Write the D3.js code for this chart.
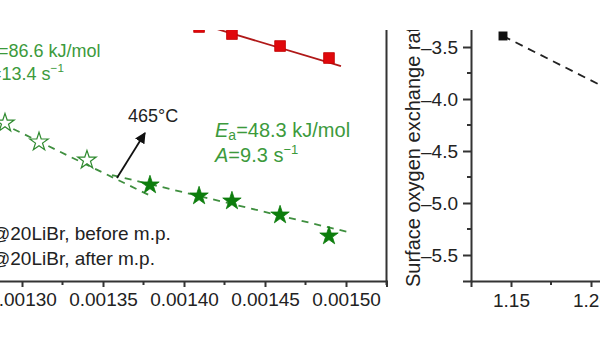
<!DOCTYPE html>
<html><head><meta charset="utf-8">
<script src="https://cdn.jsdelivr.net/npm/d3@7"></script>
<style>
html,body{margin:0;padding:0;background:#fff;}
svg{display:block;font-family:"Liberation Sans",Arial,sans-serif;}
</style></head>
<body>
<svg id="c" width="600" height="338"></svg>
<script>
// ---------- data (left panel: Arrhenius plot, x = 1/T in K^-1) ----------
const openStarX = [0.0012895, 0.0013105, 0.0013401];
const openStarY = [-3.549, -3.783, -4.006];
const filledStarX = [0.001379, 0.0014093, 0.0014296, 0.0014593, 0.0014895];
const filledStarY = [-4.314, -4.450, -4.512, -4.685, -4.944];
const redSquareX = [0.0014093, 0.0014296, 0.0014593, 0.0014895];
const redSquareY = [-2.363, -2.450, -2.598, -2.746];
const redFitX = [0.0014037, 0.0014969];
const redFitY = [-2.289, -2.845];
const openFitX = [0.0012802, 0.0013809];
const openFitY = [-3.482, -4.463];
const filledFitX = [0.0013556, 0.0015037];
const filledFitY = [-4.191, -4.907];
const leftXTicks = [0.00125, 0.00130, 0.00135, 0.00140, 0.00145, 0.00150];
const legendLabels = ["@20LiBr, before m.p.", "@20LiBr, after m.p."];
const arrowFrom = [0.0013586, -4.228];
const arrowTo = [0.0013759, -3.672];
// ---------- data (right panel) ----------
const rightPointX = [1.145];
const rightPointY = [-3.394];
const rightFitX = [1.145, 1.25];
const rightFitY = [-3.394, -4.21];
const rightXTicks = [1.15, 1.20];
const rightYTicks = [-5.5, -5.0, -4.5, -4.0, -3.5];
const rightYTitle = "Surface oxygen exchange rate, log k";

const svg = d3.select("#c");
const defs = svg.append("defs");
defs.append("clipPath").attr("id","clipAll").append("rect")
  .attr("x",-100).attr("y",30).attr("width",800).attr("height",400);
defs.append("marker").attr("id","ah").attr("viewBox","0 0 10 10")
  .attr("refX",9).attr("refY",5).attr("markerWidth",11).attr("markerHeight",11)
  .attr("markerUnits","userSpaceOnUse").attr("orient","auto")
  .append("path").attr("d","M0,0 L10,5 L0,10 z").attr("fill","#111");

const root = svg.append("g").attr("clip-path","url(#clipAll)");

const AX = "#333", GREEN_T = "#3c9a3c", GREEN_M = "#0d7d0d", GREEN_L = "#3f8f3f";

// ---------- left panel scales ----------
const xL = d3.scaleLinear().domain([0.00125, 0.001525]).range([-59, 386.5]);
const yL = d3.scaleLinear().domain([-5.5, -2.4]).range([281, 30]);

const left = root.append("g");
left.append("line").attr("x1",xL(0.001525)).attr("x2",xL(0.001525))
  .attr("y1",yL(-2.2)).attr("y2",yL(-5.5)).attr("stroke",AX).attr("stroke-width",2);
const axL = d3.axisBottom(xL).tickValues(leftXTicks).tickFormat(d3.format(".5f"))
  .tickSizeOuter(0).tickSize(6).tickPadding(6);
const gxL = left.append("g").attr("transform",`translate(0,${yL(-5.5)})`).call(axL);
gxL.select(".domain").attr("stroke",AX).attr("stroke-width",2);
gxL.selectAll(".tick line").attr("stroke",AX).attr("stroke-width",2);
gxL.selectAll(".tick text").attr("font-size",19).attr("fill","#222")
  .attr("font-family","Liberation Sans, Arial, sans-serif");
const minorL = d3.range(0.001275, 0.00153, 0.00005);
left.append("g").selectAll("line").data(minorL).join("line")
  .attr("x1",d=>xL(d)).attr("x2",d=>xL(d)).attr("y1",yL(-5.5)).attr("y2",yL(-5.5)+4)
  .attr("stroke",AX).attr("stroke-width",2);

const line = (xs, ys, sx, sy) => d3.line()(xs.map((x,i)=>[sx(x), sy(ys[i])]));

left.append("path").attr("d",line(redFitX,redFitY,xL,yL)).attr("fill","none")
  .attr("stroke","#b01818").attr("stroke-width",1.8);
left.append("path").attr("d",line(openFitX,openFitY,xL,yL)).attr("fill","none")
  .attr("stroke",GREEN_L).attr("stroke-width",1.8).attr("stroke-dasharray","7,6");
left.append("path").attr("d",line(filledFitX,filledFitY,xL,yL)).attr("fill","none")
  .attr("stroke",GREEN_L).attr("stroke-width",1.8).attr("stroke-dasharray","7,6");

const star = d3.symbol().type(d3.symbolStar).size(105)();
const sq = d3.symbol().type(d3.symbolSquare).size(115)();
left.append("g").selectAll("path").data(redSquareX.map((x,i)=>[x,redSquareY[i]])).join("path")
  .attr("d",sq).attr("transform",d=>`translate(${xL(d[0])},${yL(d[1])})`)
  .attr("fill","#e0080c").attr("stroke","#c00000").attr("stroke-width",0.8);
left.append("g").selectAll("path").data(openStarX.map((x,i)=>[x,openStarY[i]])).join("path")
  .attr("d",star).attr("transform",d=>`translate(${xL(d[0])},${yL(d[1])})`)
  .attr("fill","#fff").attr("stroke","#2f8a2f").attr("stroke-width",1.2);
left.append("g").selectAll("path").data(filledStarX.map((x,i)=>[x,filledStarY[i]])).join("path")
  .attr("d",star).attr("transform",d=>`translate(${xL(d[0])},${yL(d[1])})`)
  .attr("fill",GREEN_M).attr("stroke",GREEN_M).attr("stroke-width",0.8);

left.append("line").attr("x1",xL(arrowFrom[0])).attr("y1",yL(arrowFrom[1]))
  .attr("x2",xL(arrowTo[0])).attr("y2",yL(arrowTo[1]))
  .attr("stroke","#111").attr("stroke-width",1.8).attr("marker-end","url(#ah)");
left.append("text").attr("x",xL(arrowTo[0])-17).attr("y",yL(arrowTo[1])-11)
  .attr("font-size",18).attr("fill","#222").text("465°C");

function eaText(g, x, y, ea, a, size, gap){
  const t1 = g.append("text").attr("x",x).attr("y",y).attr("font-size",size).attr("fill",GREEN_T);
  t1.append("tspan").attr("font-style","italic").text("E");
  t1.append("tspan").attr("font-size",size*0.7).attr("dy",3).text("a");
  t1.append("tspan").attr("dy",-3).text("=" + ea + " kJ/mol");
  const t2 = g.append("text").attr("x",x).attr("y",y+gap).attr("font-size",size).attr("fill",GREEN_T);
  t2.append("tspan").attr("font-style","italic").text("A");
  t2.append("tspan").text("=" + a + " s");
  t2.append("tspan").attr("font-size",size*0.65).attr("dy",-8).text("−1");
}
eaText(left, -21, 57, "86.6", "13.4", 18, 23);
eaText(left, 215, 137, "48.3", "9.3", 20, 25);

left.append("g").selectAll("text").data(legendLabels).join("text")
  .attr("x",-9).attr("y",(d,i)=>240+i*25).attr("font-size",19).attr("fill","#222").text(d=>d);

// ---------- right panel ----------
const xR = d3.scaleLinear().domain([1.125, 1.25]).range([471, 671]);
const yR = d3.scaleLinear().domain([-5.75, -3.25]).range([281, 21]);
const right = root.append("g");
const axRB = d3.axisBottom(xR).tickValues(rightXTicks).tickFormat(d3.format(".2f"))
  .tickSizeOuter(0).tickSize(6).tickPadding(7);
const gxR = right.append("g").attr("transform",`translate(0,${yR(-5.75)})`).call(axRB);
const axRL = d3.axisLeft(yR).tickValues(rightYTicks).tickFormat(d=>"–" + d3.format(".1f")(-d))
  .tickSizeOuter(0).tickSize(8).tickPadding(5);
const gyR = right.append("g").attr("transform",`translate(${xR(1.125)},0)`).call(axRL);
[gxR, gyR].forEach(g=>{
  g.select(".domain").attr("stroke",AX).attr("stroke-width",2);
  g.selectAll(".tick line").attr("stroke",AX).attr("stroke-width",2);
  g.selectAll(".tick text").attr("font-size",19).attr("fill","#222")
    .attr("font-family","Liberation Sans, Arial, sans-serif");
});
right.append("g").selectAll("line").data([-5.25,-4.75,-4.25,-3.75]).join("line")
  .attr("x1",xR(1.125)).attr("x2",xR(1.125)-4).attr("y1",d=>yR(d)).attr("y2",d=>yR(d))
  .attr("stroke",AX).attr("stroke-width",2);
right.append("g").selectAll("line").data([1.175]).join("line")
  .attr("x1",d=>xR(d)).attr("x2",d=>xR(d)).attr("y1",yR(-5.75)).attr("y2",yR(-5.75)+4)
  .attr("stroke",AX).attr("stroke-width",2);
right.append("path").attr("d",line(rightFitX,rightFitY,xR,yR)).attr("fill","none")
  .attr("stroke","#222").attr("stroke-width",1.8).attr("stroke-dasharray","8,6");
right.append("g").selectAll("path").data(rightPointX.map((x,i)=>[x,rightPointY[i]])).join("path")
  .attr("d",d3.symbol().type(d3.symbolSquare).size(80)())
  .attr("transform",d=>`translate(${xR(d[0])},${yR(d[1])})`).attr("fill","#111");
right.append("text").attr("transform","translate(420,287) rotate(-90)")
  .attr("font-size",20).attr("fill","#222").text(rightYTitle);
</script>
</body></html>
